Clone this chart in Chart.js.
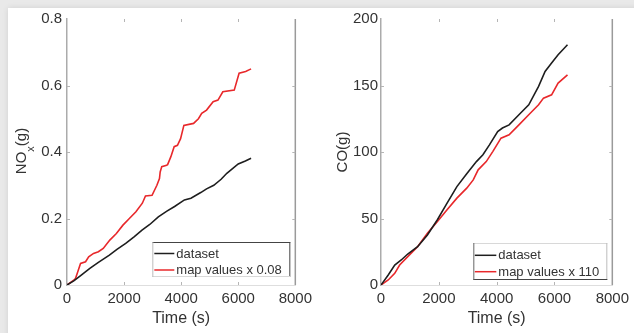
<!DOCTYPE html>
<html><head><meta charset="utf-8">
<script src="https://cdn.jsdelivr.net/npm/chart.js@4.4.1/dist/chart.umd.min.js"></script>
<style>
html,body{margin:0;padding:0;background:#e9e9e9;}
#wrap{position:relative;width:634px;height:333px;overflow:hidden;}
#panel{position:absolute;left:8px;top:8px;width:640px;height:340px;background:#fff;box-shadow:0 0 6px rgba(0,0,0,0.10);}
.box{position:absolute;top:0;width:317px;height:333px;}
</style></head><body>
<div id="wrap"><div id="panel"></div>
<div class="box" style="left:0"><canvas id="c1" width="317" height="333"></canvas></div>
<div class="box" style="left:317px"><canvas id="c2" width="317" height="333"></canvas></div>
</div>
<script>
// ---- data ----
const xTicks = [0, 2000, 4000, 6000, 8000];
const noxTicks = [0, 0.2, 0.4, 0.6, 0.8];
const coTicks = [0, 50, 100, 150, 200];
const datasetLabel = 'dataset';
const noxMapLabel = 'map values x 0.08';
const coMapLabel = 'map values x 110';

const noxDatasetT = [0,250,500,800,1100,1485,1750,2057,2350,2628,2900,3200,3500,3770,4115,4343,4686,4890,5143,5400,5600,5800,6000,6250,6450];
const noxDatasetV = [0,0.013,0.03,0.05,0.068,0.09,0.107,0.125,0.145,0.165,0.182,0.205,0.222,0.236,0.256,0.261,0.278,0.289,0.300,0.318,0.336,0.350,0.364,0.373,0.381];

const noxMapT = [0,250,300,360,475,650,760,930,1100,1270,1500,1730,1960,2185,2415,2640,2750,2980,3150,3240,3265,3320,3490,3525,3640,3755,3870,3980,4095,4435,4605,4720,4890,5120,5290,5460,5860,6030,6260,6450];
const noxMapV = [0,0.015,0.02,0.035,0.065,0.07,0.085,0.095,0.1,0.11,0.135,0.155,0.18,0.2,0.22,0.246,0.268,0.27,0.3,0.32,0.34,0.356,0.36,0.362,0.386,0.416,0.42,0.44,0.48,0.486,0.5,0.516,0.526,0.551,0.556,0.581,0.586,0.637,0.642,0.65];

const coDatasetT = [0,250,475,700,925,1265,1605,1945,2285,2625,2965,3300,3525,3750,4035,4200,4430,4770,5110,5450,5675,5900,6125,6450];
const coDatasetV = [0,7.5,15,18.8,23.3,28.8,37.6,48.9,61.5,74,83.6,92.8,97.9,105.4,115.4,118,120.4,128,135.5,149.3,160.6,166.9,173.1,180.6];

const coMapT = [0,250,475,645,925,1265,1605,1945,2285,2625,2965,3190,3360,3640,3865,4150,4430,4770,5110,5450,5620,5900,6125,6450];
const coMapV = [0,3.8,8.8,15,21.3,28.8,38.9,47.6,56.5,65.3,72.8,79,86.6,92.8,100.3,110.4,112.9,120.4,128,135.5,140.5,143,151.8,158];

const zip = (t, v) => t.map((x, i) => ({x: x, y: v[i]}));

const FONT = '"Liberation Sans", Arial, Helvetica, sans-serif';
const TXT = '#333333';
const BLACK = '#1e1e1e';
const RED = '#e8282b';

// inward tick marks + right border
const framePlugin = {
  id: 'frame',
  afterDraw(chart) {
    const {ctx, chartArea: a, scales} = chart;
    ctx.save();
    ctx.strokeStyle = '#9a9a9a';
    ctx.lineWidth = 1.5;
    ctx.beginPath(); ctx.moveTo(a.right, a.top); ctx.lineTo(a.right, a.bottom); ctx.stroke();
    ctx.strokeStyle = '#b5b5b5';
    ctx.lineWidth = 1;
    const L = 3;
    scales.x.ticks.forEach(t => {
      if (t.value <= scales.x.min || t.value >= scales.x.max) return;
      const px = Math.round(scales.x.getPixelForValue(t.value)) + 0.5;
      ctx.beginPath(); ctx.moveTo(px, a.bottom); ctx.lineTo(px, a.bottom - L); ctx.stroke();
      ctx.beginPath(); ctx.moveTo(px, a.top); ctx.lineTo(px, a.top + L); ctx.stroke();
    });
    scales.y.ticks.forEach(t => {
      if (t.value <= scales.y.min || t.value >= scales.y.max) return;
      const py = Math.round(scales.y.getPixelForValue(t.value)) + 0.5;
      ctx.beginPath(); ctx.moveTo(a.left, py); ctx.lineTo(a.left + L, py); ctx.stroke();
      ctx.beginPath(); ctx.moveTo(a.right, py); ctx.lineTo(a.right - L, py); ctx.stroke();
    });
    ctx.restore();
  }
};

// y-axis title with optional subscript (config captured in closure)
function makeYTitlePlugin(conf) {
  return {
    id: 'ytitle',
    afterDraw(chart) {
      const {ctx, chartArea: a} = chart;
      ctx.save();
      ctx.fillStyle = TXT;
      ctx.textBaseline = 'alphabetic';
      ctx.textAlign = 'left';
      const widths = [];
      let total = 0;
      conf.parts.forEach(p => { ctx.font = p.size + 'px ' + FONT; const w = ctx.measureText(p.text).width; widths.push(w); total += w; });
      const cy = (a.top + a.bottom) / 2 + conf.dy;
      ctx.translate(conf.x, cy);
      ctx.rotate(-Math.PI / 2);
      let pos = -total / 2;
      conf.parts.forEach((p, i) => {
        ctx.font = p.size + 'px ' + FONT;
        ctx.fillText(p.text, pos, p.shift ? p.shift : 0);
        pos += widths[i];
      });
      ctx.restore();
    }
  };
}

// boxed legend inside the plot (config captured in closure)
function makeLegendPlugin(o) {
  return {
    id: 'boxlegend',
    afterDraw(chart) {
      const {ctx, chartArea: a} = chart;
      const x1 = a.right - o.right, x0 = x1 - o.width;
      const y1 = a.bottom - o.bottom, y0 = y1 - o.height;
      ctx.save();
      ctx.fillStyle = '#ffffff';
      ctx.fillRect(x0, y0, x1 - x0, y1 - y0);
      ctx.lineWidth = 1;
      const side = (c, ax, ay, bx, by) => { ctx.strokeStyle = c; ctx.beginPath(); ctx.moveTo(ax, ay); ctx.lineTo(bx, by); ctx.stroke(); };
      side(o.edge.top, x0, y0 + 0.5, x1, y0 + 0.5);
      side(o.edge.right, x1 - 0.5, y0, x1 - 0.5, y1);
      side(o.edge.bottom, x0, y1 - 0.5, x1, y1 - 0.5);
      side(o.edge.left, x0 + 0.5, y0, x0 + 0.5, y1);
      ctx.font = '13px ' + FONT;
      ctx.textBaseline = 'middle';
      ctx.textAlign = 'left';
      chart.data.datasets.forEach((ds, i) => {
        const ry = y0 + o.rows[i];
        ctx.strokeStyle = ds.borderColor;
        ctx.lineWidth = 1.5;
        ctx.beginPath(); ctx.moveTo(x0 + o.lineFrom, ry); ctx.lineTo(x0 + o.lineTo, ry); ctx.stroke();
        ctx.fillStyle = TXT;
        ctx.fillText(ds.label, x0 + o.textX, ry + 0.5);
      });
      ctx.restore();
    }
  };
}

function makeChart(id, cfg) {
  return new Chart(document.getElementById(id), {
    type: 'line',
    data: {
      datasets: [
        {label: datasetLabel, data: cfg.d1, borderColor: BLACK, borderWidth: 1.6, pointRadius: 0, tension: 0, fill: false},
        {label: cfg.mapLabel, data: cfg.d2, borderColor: RED, borderWidth: 1.6, pointRadius: 0, tension: 0, fill: false}
      ]
    },
    options: {
      responsive: false,
      animation: false,
      devicePixelRatio: 1,
      layout: {padding: {left: 0, top: 19, right: cfg.padRight, bottom: 0}},
      plugins: {legend: {display: false}, tooltip: {enabled: false}},
      scales: {
        x: {
          type: 'linear', min: xTicks[0], max: xTicks[xTicks.length - 1],
          afterBuildTicks: s => { s.ticks = xTicks.map(v => ({value: v})); },
          afterFit: s => { s.height = 48; },
          grid: {display: true, drawOnChartArea: false, drawTicks: false},
          border: {display: true, color: '#dedede', width: 1},
          ticks: {color: TXT, padding: 5, font: {family: FONT, size: 15}, maxRotation: 0, autoSkip: false, callback: v => String(v)},
          title: {display: true, text: 'Time (s)', color: TXT, font: {family: FONT, size: 16}, padding: {top: 0, bottom: 5}}
        },
        y: {
          type: 'linear', min: cfg.yTicks[0], max: cfg.yTicks[cfg.yTicks.length - 1],
          afterBuildTicks: s => { s.ticks = cfg.yTicks.map(v => ({value: v})); },
          afterFit: s => { s.width = cfg.yWidth; },
          grid: {display: true, drawOnChartArea: false, drawTicks: false},
          border: {display: true, color: '#ababab', width: 1.5},
          ticks: {color: TXT, padding: cfg.yPad, font: {family: FONT, size: 15}, autoSkip: false, callback: v => String(v)}
        }
      }
    },
    plugins: [framePlugin, makeYTitlePlugin(cfg.ytitle), makeLegendPlugin(cfg.legend)]
  });
}

makeChart('c1', {
  d1: zip(noxDatasetT, noxDatasetV),
  d2: zip(noxMapT, noxMapV),
  mapLabel: noxMapLabel,
  yTicks: noxTicks,
  yWidth: 67, yPad: 5, padRight: 16,
  ytitle: {x: 26, dy: -1, parts: [{text: 'NO', size: 15}, {text: 'x', size: 11, shift: 8}, {text: '(g)', size: 15}]},
  legend: {right: 5, bottom: 8, width: 138, height: 35, rows: [11.5, 28], lineFrom: 2, lineTo: 22, textX: 24, edge: {top: '#444', right: '#444', bottom: '#d8d8d8', left: '#bdbdbd'}}
});

makeChart('c2', {
  d1: zip(coDatasetT, coDatasetV),
  d2: zip(coMapT, coMapV),
  mapLabel: coMapLabel,
  yTicks: coTicks,
  yWidth: 64, yPad: 3, padRight: 17,
  ytitle: {x: 30, dy: 0, parts: [{text: 'CO(g)', size: 15}]},
  legend: {right: 5, bottom: 5, width: 134, height: 37, rows: [12.3, 28.7], lineFrom: 1.5, lineTo: 23, textX: 25, edge: {top: '#d8d8d8', right: '#bdbdbd', bottom: '#444', left: '#666'}}
});
</script>
</body></html>
